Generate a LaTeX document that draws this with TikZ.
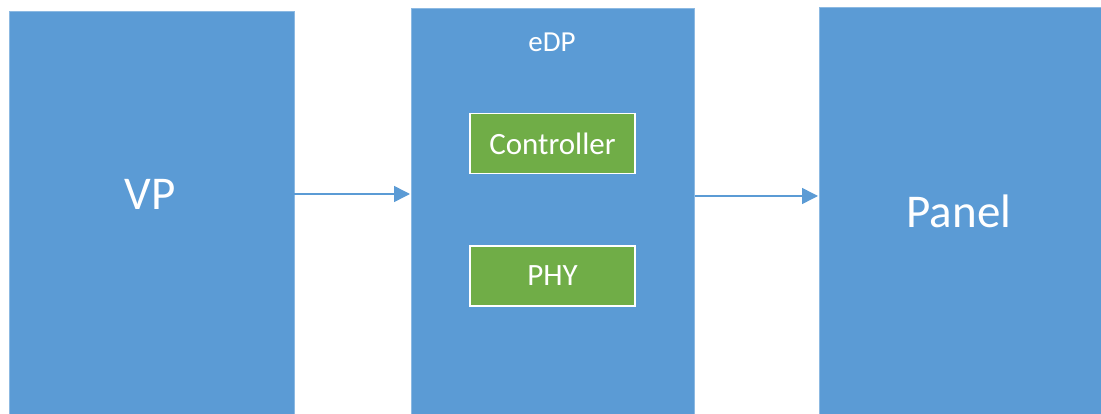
\documentclass[tikz,border=0pt]{standalone}
\usepackage{fontspec}
\setmainfont{Carlito}
\usetikzlibrary{arrows.meta}
\definecolor{blockblue}{HTML}{5B9BD5}
\definecolor{blockgreen}{HTML}{70AD47}
\tikzset{
  block/.style={fill=blockblue, draw=blockblue!70!white, line width=0.6pt, anchor=north west, inner sep=0pt},
  sub/.style={fill=blockgreen, draw=white, line width=1.5pt, minimum width=165pt, minimum height=60pt, inner sep=0pt, text=white, font=\fontsize{31}{36}\selectfont},
  biglabel/.style={text=white, inner sep=0pt, font=\fontsize{47}{52}\selectfont},
  smalllabel/.style={text=white, inner sep=0pt, font=\fontsize{29}{34}\selectfont},
  link/.style={draw=blockblue, line width=1.5pt, -{Triangle[length=16pt, width=16pt]}, shorten >=1pt}
}
\begin{document}
\begin{tikzpicture}[x=1pt, y=-1pt]
\useasboundingbox (0,0) rectangle (1101,414);
\begin{scope}
\clip (0,0) rectangle (1101,414);
% three main blocks, running past the lower edge
\node[block, minimum width=285pt, minimum height=410pt] (vp) at (8.5,11.5) {};
\node[block, minimum width=283pt, minimum height=415pt] (edp) at (411,8) {};
\node[block, minimum width=320pt, minimum height=415pt] (panel) at (819,7.5) {};
\end{scope}
% labels
\node[biglabel] (vptext) at (150,194) {VP};
\node[biglabel] (paneltext) at (959,211) {Panel};
\node[smalllabel] (edptext) at (552,42) {eDP};
% inner blocks of eDP
\node[sub] (ctrl) at (552.5,143.5) {Controller};
\node[sub] (phy) at (552.5,276) {PHY};
% connectors
\coordinate (link2) at (0,196);
\draw[link] (vp.east |- vptext) -- (edp.west |- vptext);
\draw[link] (edp.east |- link2) -- (panel.west |- link2);
\end{tikzpicture}
\end{document}
